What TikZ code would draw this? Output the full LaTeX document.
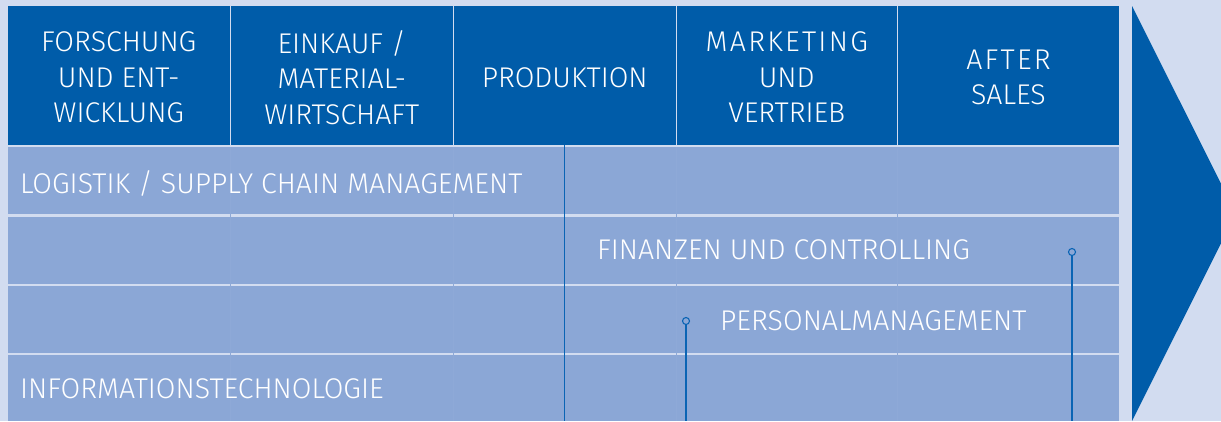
\documentclass[tikz,border=0pt]{standalone}
\usepackage{fontspec}
\setmainfont{Fira Sans Light}
\definecolor{bgc}{HTML}{D2DCF0}
\definecolor{darkc}{HTML}{005CA9}
\definecolor{rowc}{HTML}{8BA7D6}
\definecolor{seamc}{HTML}{8EA9D7}
\definecolor{connc}{HTML}{0A64B4}
\tikzset{
  headbox/.style={fill=darkc, inner sep=0pt, minimum height=139pt},
  headtext/.style={text=white, align=center, inner sep=0pt, yshift=-2pt,
    font=\fontsize{28.5}{35.5}\selectfont},
  rowbox/.style={fill=rowc, inner sep=0pt, minimum width=1111pt, minimum height=67pt},
  rowtext/.style={anchor=west, inner sep=0pt, text=white, font=\fontsize{28.5}{34}\selectfont},
  conn/.style={draw=connc, line width=1.1pt},
  dotc/.style={circle, draw=connc, line width=1.1pt, fill=rowc, minimum size=7pt, inner sep=0pt},
  seam/.style={draw=seamc, line width=0.5pt}
}
\begin{document}
\begin{tikzpicture}[x=1pt,y=-1pt]
\useasboundingbox (0,0) rectangle (1221,421);
\clip (0,0) rectangle (1221,421);
\fill[bgc] (0,0) rectangle (1221,421);
% header boxes
\node[headbox, minimum width=221.5pt] (h1) at (118.75,75.5) {};
\node[headbox, minimum width=221.5pt] (h2) at (341.75,75.5) {};
\node[headbox, minimum width=221.5pt] (h3) at (564.75,75.5) {};
\node[headbox, minimum width=219.5pt] (h4) at (786.75,75.5) {};
\node[headbox, minimum width=221pt] (h5) at (1008.5,75.5) {};
\node[headtext] (h1t) at (h1.center) {FORSCHUNG\\UND ENT-\\WICKLUNG};
\node[headtext] (h2t) at (h2.center) {EINKAUF /\\MATERIAL-\\WIRTSCHAFT};
\node[headtext] (h3t) at (h3.center) {PRODUKTION};
\node[headtext] (h4t) at (h4.center) {\addfontfeature{LetterSpace=8}MARKETING\\UND\\VERTRIEB};
\node[headtext] (h5t) at (h5.center) {\addfontfeature{LetterSpace=8}AFTER\\SALES};
% rows
\node[rowbox] (r1) at (563.5,180.75) {};
\node[rowbox] (r2) at (563.5,250) {};
\node[rowbox] (r3) at (563.5,319) {};
\node[rowbox, minimum height=66.5pt] (r4) at (563.5,387.75) {};
% faint seams
\foreach \sx in {230.2,453.2,676.2,897.2}{
  \draw[seam] (\sx,147) -- (\sx,421);
}
% row texts
\node[rowtext] (t1) at (20,183) {LOGISTIK / SUPPLY CHAIN MANAGEMENT};
\node[rowtext] (t2) at (597,250) {FINANZEN UND CONTROLLING};
\node[rowtext] (t3) at (720,321) {PERSONALMANAGEMENT};
\node[rowtext] (t4) at (20,389) {INFORMATIONSTECHNOLOGIE};
% connectors
\coordinate (b0) at (564.75,421);
\coordinate (b1) at (686,421);
\coordinate (b2) at (1072,421);
\node[dotc] (d1) at (686,321) {};
\node[dotc] (d2) at (1072,252) {};
\draw[conn] (h3.south) -- (b0);
\draw[conn] (d1.south) -- (b1);
\draw[conn] (d2.south) -- (b2);
% big arrow
\fill[darkc] (1132,6) -- (1236,213.5) -- (1132,421) -- cycle;
\end{tikzpicture}
\end{document}
